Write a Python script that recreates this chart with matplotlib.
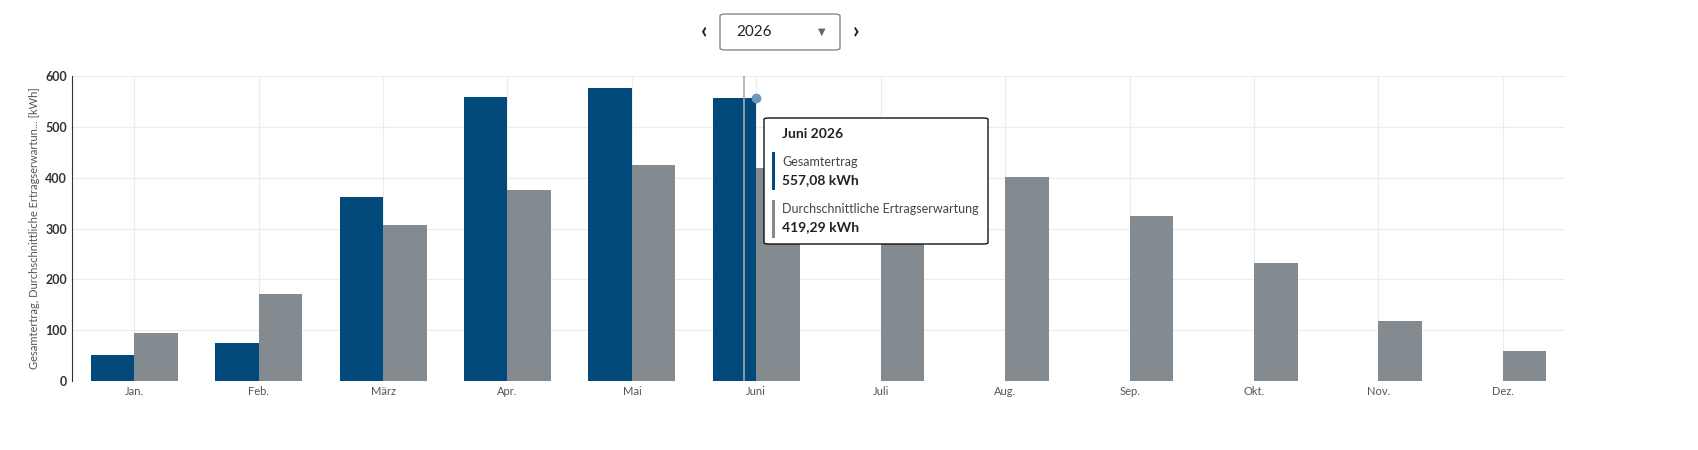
import matplotlib
matplotlib.use("Agg")
import matplotlib.pyplot as plt
from matplotlib.patches import FancyBboxPatch, Rectangle
import numpy as np

months = ["Jan.", "Feb.", "März", "Apr.", "Mai", "Juni", "Juli", "Aug.", "Sep.", "Okt.", "Nov.", "Dez."]
gesamtertrag = [51, 75, 362, 558, 577, 557.08]
erwartung = [94, 171, 307, 376, 425, 419.29, 427, 401, 325, 232, 118, 59]

BLUE = "#02497c"
GRAY = "#838a90"

plt.rcParams["font.family"] = ["Lato", "DejaVu Sans"]
fig = plt.figure(figsize=(16.98, 4.5), dpi=100)
ax = fig.add_axes([0.0424, 0.153, 0.8793, 0.678])

x = np.arange(len(months))
w = 0.35
ax.bar(x[:len(gesamtertrag)] - w / 2, gesamtertrag, width=w, color=BLUE, linewidth=0, zorder=3)
ax.bar(x + w / 2, erwartung, width=w, color=GRAY, linewidth=0, zorder=3)

ax.set_xlim(-0.5, 11.5)
ax.set_ylim(0, 600)
ax.set_yticks(range(0, 601, 100))
ax.set_xticks(x, months)
ax.tick_params(axis="x", length=0, labelsize=8, colors="#555555")
ax.tick_params(axis="y", length=0, labelsize=9, colors="#333333")
for lbl in ax.get_yticklabels():
    lbl.set_fontweight("bold")
ax.grid(True, color="#ececec", linewidth=0.8, zorder=0)
for s in ["top", "right", "bottom"]:
    ax.spines[s].set_visible(False)
ax.spines["left"].set_color("#333333")
ax.spines["left"].set_linewidth(0.8)
ax.set_ylabel("Gesamtertrag, Durchschnittliche Ertragserwartun... [kWh]", fontsize=8, color="#555555")

# hover crosshair and marker
ax.axvline(5 - 0.1, color="#aaaaaa", linewidth=1.2, zorder=4)
ax.plot([5], [gesamtertrag[5]], "o", color="#6f97b8", markersize=6, zorder=5, clip_on=False)

# tooltip
tip = FancyBboxPatch((764 / 1698, (450 - 244) / 450), 224 / 1698, 126 / 450,
                     boxstyle="round,pad=0,rounding_size=0.003", transform=fig.transFigure,
                     facecolor="white", edgecolor="#111111", linewidth=1.0, zorder=10)
fig.patches.append(tip)
tk = dict(va="center", zorder=12)
fig.text(782 / 1698, (450 - 134) / 450, "Juni 2026", fontsize=10, fontweight="bold", color="#222222", **tk)
fig.patches.append(Rectangle((772 / 1698, (450 - 190) / 450), 3 / 1698, 38 / 450, transform=fig.transFigure,
                             facecolor=BLUE, zorder=11))
fig.text(782 / 1698, (450 - 162) / 450, "Gesamtertrag", fontsize=9, color="#444444", **tk)
fig.text(782 / 1698, (450 - 180) / 450, "557,08 kWh", fontsize=10, fontweight="bold", color="#222222", **tk)
fig.patches.append(Rectangle((772 / 1698, (450 - 238) / 450), 3 / 1698, 38 / 450, transform=fig.transFigure,
                             facecolor=GRAY, zorder=11))
fig.text(782 / 1698, (450 - 209) / 450, "Durchschnittliche Ertragserwartung", fontsize=9, color="#444444", **tk)
fig.text(782 / 1698, (450 - 227) / 450, "419,29 kWh", fontsize=10, fontweight="bold", color="#222222", **tk)

# year selector
sel = FancyBboxPatch((720 / 1698, (450 - 50) / 450), 120 / 1698, 36 / 450,
                     boxstyle="round,pad=0,rounding_size=0.004", transform=fig.transFigure,
                     facecolor="white", edgecolor="#888888", linewidth=1.0)
fig.patches.append(sel)
fig.text(736 / 1698, (450 - 32) / 450, "2026", fontsize=11, color="#222222", **tk)
fig.text(822 / 1698, (450 - 32) / 450, "▼", fontsize=7, color="#666666", ha="center", **tk)
fig.text(704 / 1698, (450 - 32) / 450, "‹", fontsize=16, fontweight="bold", color="#222222", ha="center", **tk)
fig.text(856 / 1698, (450 - 32) / 450, "›", fontsize=16, fontweight="bold", color="#222222", ha="center", **tk)

fig.savefig("out.png", facecolor="white")
